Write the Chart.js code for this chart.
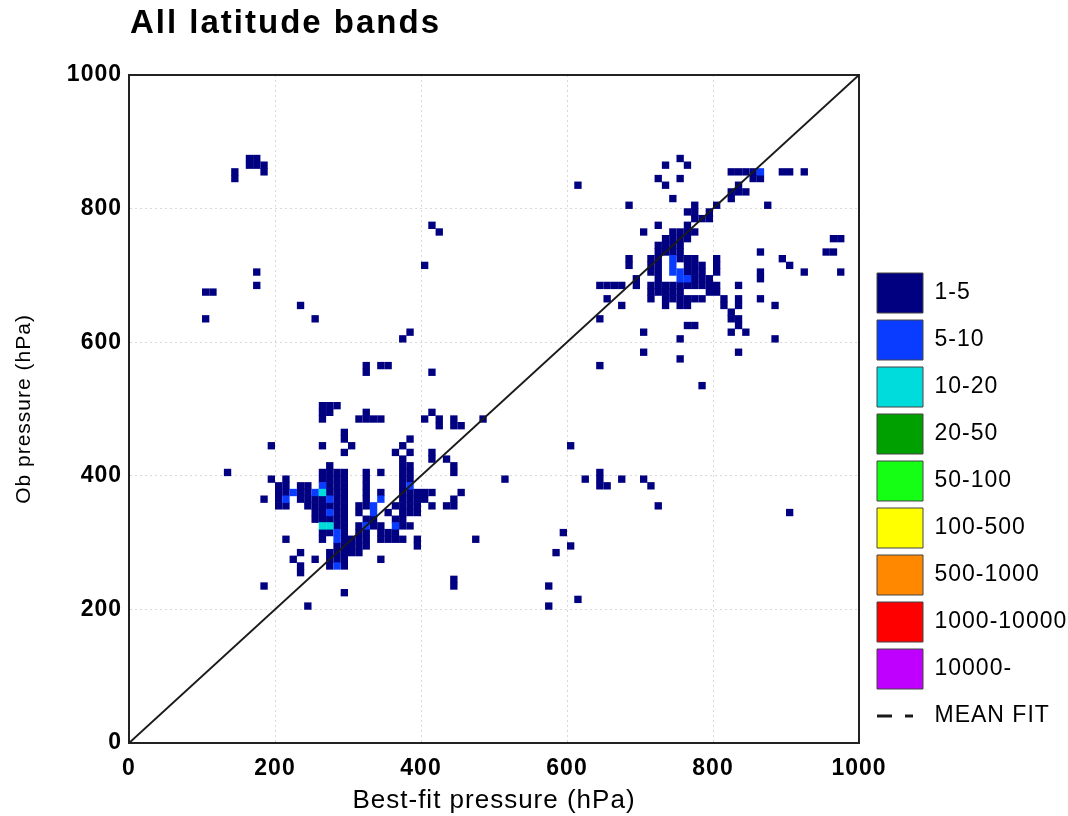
<!DOCTYPE html>
<html>
<head>
<meta charset="utf-8">
<script src="https://cdn.jsdelivr.net/npm/chart.js@4/dist/chart.umd.min.js"></script>
<style>
  body { margin: 0; background: #fff; }
  #wrap { position: relative; width: 1068px; height: 816px; }
  #title {
    position: absolute; left: 130px; top: 5px;
    font: bold 33px "Liberation Sans", Arial, sans-serif;
    line-height: 33px; letter-spacing: 2px; color: #000;
  }
</style>
</head>
<body>
<div id="wrap">
  <div id="title">All latitude bands</div>
  <canvas id="chart" width="1068" height="816"></canvas>
</div>
<script>
// count bins of the legend
const countBins = ["1-5", "5-10", "10-20", "20-50", "50-100", "100-500", "500-1000", "1000-10000", "10000-"];
const binColors = ["#000080", "#0a3cff", "#00dcdc", "#00a000", "#14ff14", "#ffff00", "#ff8800", "#ff0000", "#c000ff"];

// axis ticks (hPa)
const axisTicks = [0, 200, 400, 600, 800, 1000];

// occupied 10 hPa cells, [best-fit pressure, ob pressure] of the lower-left corner
const cells1to5 = [
  // scattered, upper left
  [140, 850], [140, 840], [160, 870], [170, 870], [160, 860], [170, 860], [180, 860], [180, 850],
  [170, 700], [170, 680], [100, 670], [110, 670], [100, 630], [230, 650], [250, 630],
  [400, 710], [410, 770], [420, 760], [370, 600], [380, 610], [320, 560], [320, 550],
  [340, 560], [350, 560], [410, 550], [610, 830],
  // scattered, lower right
  [780, 530], [600, 440], [510, 390], [620, 390], [640, 400], [640, 390], [640, 380], [650, 380],
  [670, 390], [700, 390], [710, 380], [720, 350], [900, 340], [590, 310], [600, 290], [580, 280],
  [570, 230], [570, 200], [610, 210],
  [440, 480], [440, 470], [450, 470], [480, 480], [420, 470], [430, 420], [440, 410], [440, 400],
  [450, 370], [440, 360], [430, 350], [440, 350], [470, 300], [440, 240], [440, 230],
  // upper right cluster
  [750, 870], [730, 860], [760, 860], [720, 840], [730, 830], [750, 840], [740, 810], [680, 800],
  [820, 850], [830, 850], [840, 850], [850, 850], [890, 850], [900, 850], [920, 850],
  [850, 840], [860, 840], [830, 830], [820, 820], [830, 820], [840, 820], [820, 810], [870, 800],
  [800, 800], [790, 790], [790, 780], [770, 800], [770, 790], [770, 780], [760, 790], [780, 780],
  [760, 770], [770, 760], [720, 770], [700, 760], [740, 760], [750, 760], [760, 760],
  [730, 750], [740, 750], [750, 750], [760, 750],
  [720, 740], [730, 740], [740, 740], [750, 740],
  [720, 730], [730, 730], [740, 730], [750, 730],
  [680, 720], [680, 710], [710, 720], [720, 720], [750, 720], [760, 720], [770, 720],
  [800, 720], [800, 710], [800, 700], [780, 710],
  [710, 710], [720, 710], [760, 710], [770, 710],
  [710, 700], [720, 700], [760, 700], [770, 700], [780, 700],
  [720, 690], [770, 690], [780, 690], [790, 690],
  [640, 680], [650, 680], [660, 680], [670, 680], [690, 690], [690, 680],
  [710, 680], [720, 680], [730, 680], [740, 680], [750, 680], [760, 680], [770, 680], [780, 680],
  [790, 680], [800, 680], [830, 680],
  [710, 670], [720, 670], [730, 670], [740, 670], [750, 670], [790, 670], [800, 670],
  [710, 660], [730, 660], [740, 660], [750, 660], [760, 660], [770, 660], [780, 660],
  [810, 660], [810, 650], [830, 660], [830, 650], [860, 660], [880, 650], [670, 650], [650, 660],
  [730, 650], [750, 650], [760, 650],
  [640, 630], [820, 640], [820, 630], [830, 630], [830, 620], [760, 620], [770, 620],
  [820, 610], [840, 610], [700, 610], [750, 600], [880, 600], [700, 580], [750, 570], [830, 580],
  [640, 560],
  [860, 730], [890, 720], [900, 710], [920, 700], [970, 700], [960, 750], [970, 750],
  [950, 730], [960, 730], [860, 700], [860, 690],
  // lower left cluster
  [260, 500], [270, 500], [280, 500],
  [260, 490], [270, 490], [320, 490], [410, 490],
  [260, 480], [310, 480], [320, 480], [330, 480], [340, 480], [400, 480], [420, 480],
  [290, 460], [290, 450], [380, 450],
  [190, 440], [260, 440], [300, 440], [370, 440],
  [290, 430], [360, 430], [380, 430], [410, 430],
  [370, 420], [410, 420],
  [270, 410], [370, 410], [380, 410],
  [130, 400], [260, 400], [270, 400], [280, 400], [290, 400], [320, 400], [340, 400], [370, 400], [380, 400],
  [190, 390], [210, 390], [260, 390], [270, 390], [280, 390], [290, 390], [320, 390], [370, 390], [380, 390],
  [200, 380], [210, 380], [230, 380], [240, 380], [270, 380], [280, 380], [290, 380], [320, 380], [370, 380],
  [200, 370], [210, 370], [230, 370], [240, 370], [270, 370], [280, 370], [290, 370], [320, 370],
  [340, 370], [370, 370], [380, 370], [390, 370], [400, 370], [410, 370],
  [180, 360], [200, 360], [230, 360], [240, 360], [250, 360], [260, 360], [280, 360], [290, 360],
  [320, 360], [370, 360], [380, 360], [390, 360], [400, 360],
  [200, 350], [210, 350], [240, 350], [250, 350], [260, 350], [270, 350], [280, 350], [290, 350],
  [310, 350], [320, 350], [360, 350], [370, 350], [380, 350], [390, 350], [410, 350],
  [250, 340], [260, 340], [280, 340], [290, 340], [310, 340], [350, 340], [370, 340], [380, 340], [390, 340],
  [250, 330], [260, 330], [270, 330], [280, 330], [290, 330], [320, 330], [330, 330], [360, 330], [370, 330],
  [280, 320], [290, 320], [310, 320], [330, 320], [340, 320], [370, 320], [380, 320],
  [260, 310], [270, 310], [290, 310], [310, 310], [320, 310], [340, 310], [350, 310], [360, 310],
  [210, 300], [260, 300], [290, 300], [300, 300], [310, 300], [320, 300], [340, 300], [350, 300],
  [360, 300], [370, 300], [390, 300],
  [280, 290], [290, 290], [300, 290], [310, 290], [320, 290], [390, 290],
  [230, 280], [270, 280], [280, 280], [290, 280], [300, 280], [310, 280],
  [220, 270], [250, 270], [270, 270], [280, 270], [290, 270], [340, 270],
  [230, 260], [270, 260], [290, 260],
  [230, 250], [180, 230], [290, 220], [240, 200]
];
const cells5to10 = [
  [860, 850], [740, 720], [740, 710], [740, 700], [750, 700], [750, 690], [760, 690],
  [260, 380], [380, 380], [220, 370], [250, 370], [210, 360], [270, 360], [340, 360],
  [330, 350], [270, 340], [330, 340], [320, 320], [360, 320], [280, 310], [280, 300], [280, 260]
];
const cells10to20 = [[260, 370], [260, 320], [270, 320]];
const cells20to50 = [];
const cells50to100 = [];
const cells100to500 = [];
const cells500to1000 = [];
const cells1000to10000 = [];
const cells10000up = [];

const meanFit = [[0, 0], [1000, 1000]];

const binCells = [cells1to5, cells5to10, cells10to20, cells20to50, cells50to100,
  cells100to500, cells500to1000, cells1000to10000, cells10000up];

const fontFamily = '"Liberation Sans", Arial, sans-serif';

// datasets
const datasets = countBins.map((label, i) => ({
  label: label,
  data: binCells[i].map(([x, y]) => ({ x: x + 5, y: y + 5 })),
  backgroundColor: binColors[i],
  borderWidth: 0,
  pointStyle: "rect",
  pointRadius: 5.2,
  order: countBins.length - i,
}));
datasets.push({
  label: "MEAN FIT",
  data: meanFit.map(([x, y]) => ({ x, y })),
  showLine: true,
  borderColor: "#1a1a1a",
  borderWidth: 2,
  pointRadius: 0,
  order: -1,
});

// spaced-out lettering like the original plot
const letterSpacingPlugin = {
  id: "letterSpacing",
  beforeUpdate(chart) { chart.ctx.letterSpacing = "1px"; },
  beforeDraw(chart) { chart.ctx.letterSpacing = "1px"; },
};

// dashed mark for the MEAN FIT legend entry
const meanFitMark = {
  id: "meanFitMark",
  afterDraw(chart) {
    const boxes = chart.legend.legendHitBoxes;
    const hb = boxes[boxes.length - 1];
    const ctx = chart.ctx;
    const y = hb.top + hb.height / 2;
    ctx.save();
    ctx.strokeStyle = "#1a1a1a";
    ctx.lineWidth = 3;
    ctx.beginPath();
    ctx.moveTo(hb.left, y);
    ctx.lineTo(hb.left + 15, y);
    ctx.moveTo(hb.left + 28, y);
    ctx.lineTo(hb.left + 36, y);
    ctx.stroke();
    ctx.restore();
  },
};

const tickFont = { family: fontFamily, size: 23, weight: "bold" };

new Chart(document.getElementById("chart"), {
  type: "scatter",
  data: { datasets: datasets },
  plugins: [letterSpacingPlugin, meanFitMark],
  options: {
    responsive: false,
    animation: false,
    devicePixelRatio: 1,
    layout: { padding: { top: 75, left: 0, right: 0, bottom: 0 } },
    plugins: {
      tooltip: { enabled: false },
      legend: {
        position: "right",
        align: "end",
        fullSize: false,
        maxWidth: 198,
        labels: {
          boxWidth: 46,
          boxHeight: 40,
          padding: 7,
          color: "#000",
          font: { family: fontFamily, size: 23 },
          generateLabels(chart) {
            const items = countBins.map((label, i) => ({
              text: label,
              fillStyle: binColors[i],
              strokeStyle: "#444",
              lineWidth: 1,
              datasetIndex: i,
            }));
            items.push({
              text: "MEAN FIT",
              fillStyle: "rgba(0,0,0,0)",
              strokeStyle: "rgba(0,0,0,0)",
              lineWidth: 0,
              datasetIndex: countBins.length,
            });
            return items;
          },
        },
      },
    },
    scales: {
      x: {
        type: "linear",
        position: "bottom",
        min: 0,
        max: 1000,
        afterBuildTicks(scale) { scale.ticks = axisTicks.map((v) => ({ value: v })); },
        afterFit(scale) { scale.height = 73; },
        grid: { color: "#d9d9d9", lineWidth: 1, drawTicks: false },
        border: { display: true, color: "#222", width: 2, dash: [2, 3] },
        ticks: { color: "#000", font: tickFont, padding: 12, maxRotation: 0, callback: (v) => String(v) },
        title: {
          display: true,
          text: "Best-fit pressure (hPa)",
          color: "#000",
          font: { family: fontFamily, size: 26 },
          padding: { top: 0, bottom: 0 },
        },
      },
      y: {
        type: "linear",
        position: "left",
        min: 0,
        max: 1000,
        afterBuildTicks(scale) { scale.ticks = axisTicks.map((v) => ({ value: v })); },
        afterFit(scale) { scale.width = 129; },
        grid: { color: "#d9d9d9", lineWidth: 1, drawTicks: false },
        border: { display: true, color: "#222", width: 2, dash: [2, 3] },
        ticks: { color: "#000", font: tickFont, padding: 7, callback: (v) => String(v) },
        title: {
          display: true,
          text: "Ob pressure (hPa)",
          color: "#000",
          font: { family: fontFamily, size: 21 },
          padding: { top: 12, bottom: 0 },
        },
      },
      // frame on top and right
      xTop: {
        type: "linear",
        position: "top",
        min: 0,
        max: 1000,
        afterFit(scale) { scale.height = 0; },
        grid: { display: false },
        ticks: { display: false },
        border: { display: true, color: "#222", width: 2 },
      },
      yRight: {
        type: "linear",
        position: "right",
        min: 0,
        max: 1000,
        afterFit(scale) { scale.width = 11; },
        grid: { display: false },
        ticks: { display: false },
        border: { display: true, color: "#222", width: 2 },
      },
    },
  },
});
</script>
</body>
</html>
